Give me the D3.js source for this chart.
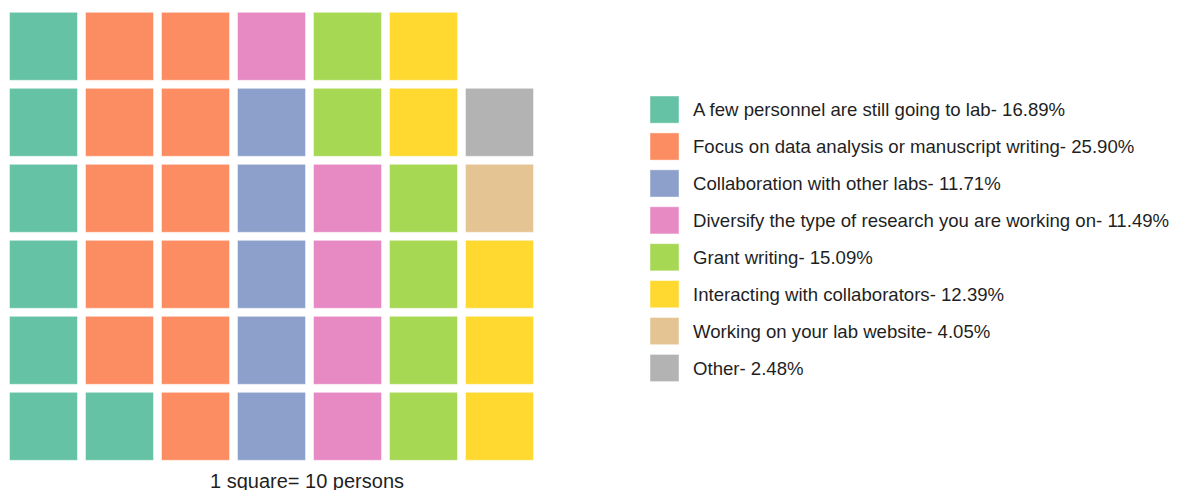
<!DOCTYPE html>
<html>
<head>
<meta charset="utf-8">
<script src="https://cdn.jsdelivr.net/npm/d3@7"></script>
<style>
  body { margin: 0; background: #fff; }
  text { font-family: "Liberation Sans", Arial, sans-serif; fill: #1f1f1f; }
</style>
</head>
<body>
<script>
// categories, squares per category (1 square = 10 persons), legend percentages
const categories = [
  "A few personnel are still going to lab",
  "Focus on data analysis or manuscript writing",
  "Collaboration with other labs",
  "Diversify the type of research you are working on",
  "Grant writing",
  "Interacting with collaborators",
  "Working on your lab website",
  "Other"
];
const squares = [7, 11, 5, 5, 6, 5, 1, 1];
const percents = ["16.89%", "25.90%", "11.71%", "11.49%", "15.09%", "12.39%", "4.05%", "2.48%"];
const colors = ["#66C2A5", "#FC8D62", "#8DA0CB", "#E78AC3", "#A6D854", "#FFD92F", "#E5C494", "#B3B3B3"];

const nCols = 7, nRows = 6;

const svg = d3.select("body").append("svg")
    .attr("width", 1178)
    .attr("height", 490);

// grid scales
const x = d3.scaleBand()
    .domain(d3.range(nCols))
    .range([9.5, 533.5])
    .paddingInner(8 / 76);
const y = d3.scaleBand()
    .domain(d3.range(nRows))
    .range([12.3, 460.3])
    .paddingInner(8 / 76);

const color = d3.scaleOrdinal().domain(categories).range(colors);

// expand counts into cells, filled column by column from the bottom up
const cells = [];
categories.forEach((c, k) => {
  for (let j = 0; j < squares[k]; j++) cells.push(c);
});
const data = cells.map((c, i) => ({
  cat: c,
  col: Math.floor(i / nRows),
  row: nRows - 1 - (i % nRows)
}));

svg.append("g").selectAll("rect")
    .data(data)
  .enter().append("rect")
    .attr("x", d => x(d.col))
    .attr("y", d => y(d.row))
    .attr("width", x.bandwidth())
    .attr("height", y.bandwidth())
    .attr("fill", d => color(d.cat))
    .attr("stroke", "rgba(255,255,255,0.45)")
    .attr("stroke-width", 1);

// caption
svg.append("text")
    .attr("x", 307)
    .attr("y", 487.5)
    .attr("text-anchor", "middle")
    .style("font-size", "20px")
    .text("1 square= 10 persons");

// legend
const ly = d3.scaleBand()
    .domain(categories)
    .range([96, 96 + categories.length * 35.7])
    .paddingInner(9.4 / 35.7)
    .paddingOuter(0);

const legend = svg.append("g").selectAll("g")
    .data(categories)
  .enter().append("g")
    .attr("transform", d => `translate(0,${ly(d)})`);

legend.append("rect")
    .attr("x", 650)
    .attr("width", 29)
    .attr("height", ly.bandwidth())
    .attr("fill", d => color(d))
    .attr("stroke", "rgba(255,255,255,0.45)")
    .attr("stroke-width", 1);

legend.append("text")
    .attr("x", 693)
    .attr("y", ly.bandwidth() / 2 + 6.6)
    .style("font-size", "18.6px")
    .text((d, i) => `${d}- ${percents[i]}`);
</script>
</body>
</html>
